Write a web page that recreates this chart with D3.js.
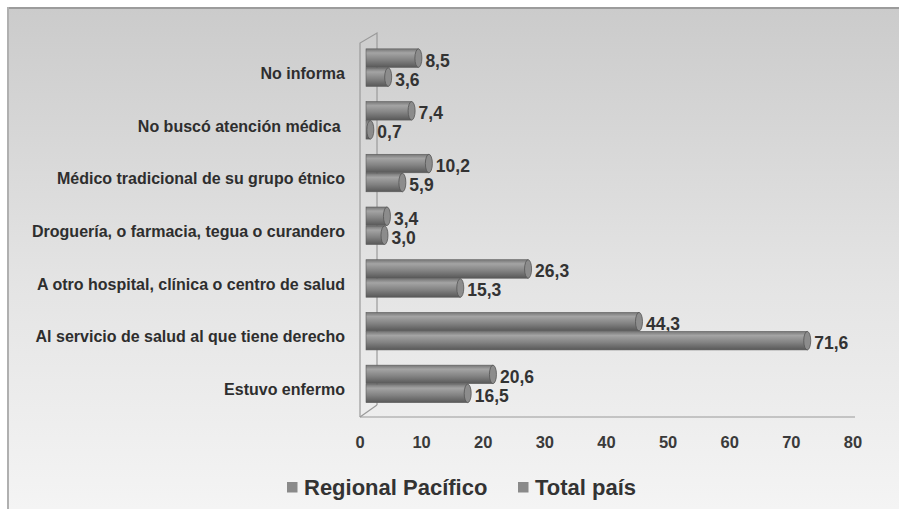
<!DOCTYPE html>
<html>
<head>
<meta charset="utf-8">
<script src="https://cdn.jsdelivr.net/npm/d3@7"></script>
<style>
  body { margin: 0; background: #fff; }
  text { font-family: "Liberation Sans", Arial, sans-serif; font-weight: bold; }
</style>
</head>
<body>
<script>
// categories top to bottom
var categories = [
  "No informa",
  "No buscó atención médica ",
  "Médico tradicional de su grupo étnico",
  "Droguería, o farmacia, tegua o curandero",
  "A otro hospital, clínica o centro de salud",
  "Al servicio de salud al que tiene derecho",
  "Estuvo enfermo"
];
var regionalPacifico = [8.5, 7.4, 10.2, 3.4, 26.3, 44.3, 20.6];
var totalPais = [3.6, 0.7, 5.9, 3.0, 15.3, 71.6, 16.5];
var seriesNames = ["Regional Pacífico", "Total país"];
var xTicks = [0, 10, 20, 30, 40, 50, 60, 70, 80];

var svgWidth = 899;
var svgHeight = 509;

var svg = d3.select("body")
  .append("svg")
  .attr("width", svgWidth)
  .attr("height", svgHeight);

var defs = svg.append("defs");

// background gradient
var bg = defs.append("linearGradient")
  .attr("id", "bgGrad")
  .attr("x1", 0).attr("y1", 0).attr("x2", 0).attr("y2", 1);
bg.append("stop").attr("offset", "0%").attr("stop-color", "#cbcbcb");
bg.append("stop").attr("offset", "55%").attr("stop-color", "#e4e4e4");
bg.append("stop").attr("offset", "100%").attr("stop-color", "#f4f4f4");

// cylinder shading
var cyl = defs.append("linearGradient")
  .attr("id", "cylGrad")
  .attr("x1", 0).attr("y1", 0).attr("x2", 0).attr("y2", 1);
cyl.append("stop").attr("offset", "0%").attr("stop-color", "#767676");
cyl.append("stop").attr("offset", "22%").attr("stop-color", "#a4a4a4");
cyl.append("stop").attr("offset", "60%").attr("stop-color", "#828282");
cyl.append("stop").attr("offset", "100%").attr("stop-color", "#585858");

svg.append("rect")
  .attr("x", 7).attr("y", 7)
  .attr("width", svgWidth - 7).attr("height", svgHeight - 7)
  .attr("fill", "url(#bgGrad)");

// frame top / left
svg.append("line")
  .attr("x1", 7).attr("x2", svgWidth).attr("y1", 8).attr("y2", 8)
  .attr("stroke", "#9c9c9c").attr("stroke-width", 2);
svg.append("line")
  .attr("x1", 8).attr("x2", 8).attr("y1", 7).attr("y2", svgHeight)
  .attr("stroke", "#b0b0b0").attr("stroke-width", 2);

// scales
var x = d3.scaleLinear().domain([0, 80]).range([360, 853]);
var y = d3.scaleBand().domain(categories).range([47, 416]);

var depth = 6;   // 3d offset
var barH = 18.5;

// 3d wall + floor
var axisG = svg.append("g")
  .attr("fill", "none")
  .attr("stroke", "#9a9a9a")
  .attr("stroke-width", 1.2);
axisG.append("path")
  .attr("d", "M" + x(0) + ",417 L" + x(0) + ",43 L" + (x(0) + 17) + ",33 L" + (x(0) + 17) + ",405");
axisG.append("path")
  .attr("d", "M" + x(0) + ",417 L" + (x(0) + 17) + ",405");
axisG.append("line")
  .attr("x1", x(0)).attr("x2", x(80) + 2)
  .attr("y1", 417).attr("y2", 417);

// x axis tick labels
svg.append("g")
  .selectAll("text")
  .data(xTicks)
  .enter().append("text")
  .attr("x", d => x(d))
  .attr("y", 448)
  .attr("text-anchor", "middle")
  .attr("font-size", 16.5)
  .attr("fill", "#3a3a3a")
  .text(d => d);

// category labels
svg.append("g")
  .selectAll("text")
  .data(categories)
  .enter().append("text")
  .attr("x", 345)
  .attr("y", d => y(d) + y.bandwidth() / 2 + 5.5)
  .attr("text-anchor", "end")
  .attr("font-size", 16)
  .attr("fill", "#2e2e2e")
  .style("white-space", "pre")
  .text(d => d);

// bars: each series as a row of cylinders
var fmt = v => v.toFixed(1).replace(".", ",");

function drawSeries(values, idx) {
  var g = svg.append("g");
  var groups = g.selectAll("g")
    .data(values.map((v, i) => ({ v: v, c: categories[i] })))
    .enter().append("g")
    .attr("transform", d => {
      var top = y(d.c) + y.bandwidth() / 2 - depth - barH + idx * (barH + 0.5);
      return "translate(0," + top + ")";
    });

  groups.append("rect")
    .attr("x", x(0) + depth)
    .attr("y", 0)
    .attr("width", d => x(d.v) - x(0))
    .attr("height", barH)
    .attr("fill", "url(#cylGrad)")
    .attr("stroke", "#5c5c5c")
    .attr("stroke-width", 0.6);

  groups.append("ellipse")
    .attr("cx", d => x(d.v) + depth)
    .attr("cy", barH / 2)
    .attr("rx", 3.5)
    .attr("ry", barH / 2)
    .attr("fill", "#8c8c8c")
    .attr("stroke", "#555")
    .attr("stroke-width", 0.8);

  groups.append("text")
    .attr("x", d => x(d.v) + depth + 7)
    .attr("y", barH / 2 + 8.5)
    .attr("font-size", 17.5)
    .attr("fill", "#333")
    .text(d => fmt(d.v));
}

drawSeries(regionalPacifico, 0);
drawSeries(totalPais, 1);

// legend
var legend = svg.append("g");
var legX = [287, 518];
seriesNames.forEach(function (name, i) {
  legend.append("rect")
    .attr("x", legX[i]).attr("y", 482)
    .attr("width", 10.5).attr("height", 10.5)
    .attr("fill", "#8a8a8a");
  legend.append("text")
    .attr("x", legX[i] + 17).attr("y", 495)
    .attr("font-size", 22)
    .attr("fill", "#333")
    .text(name);
});
</script>
</body>
</html>
